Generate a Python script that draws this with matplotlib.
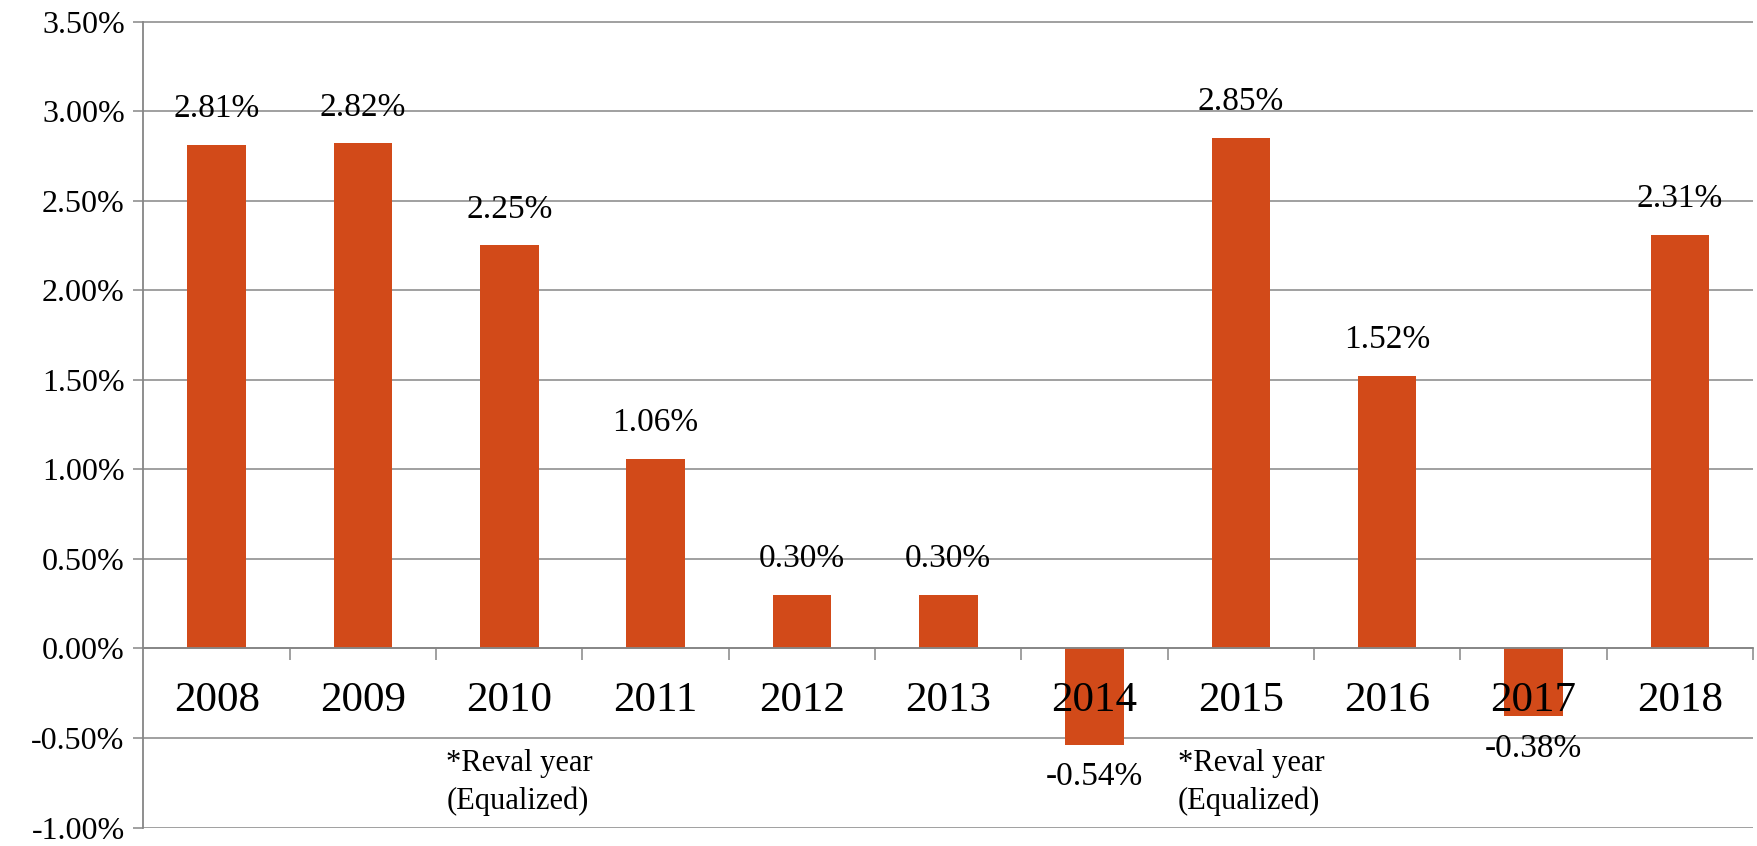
import matplotlib
matplotlib.use("Agg")
import matplotlib.pyplot as plt
from matplotlib.ticker import FuncFormatter, FixedLocator

years = ["2008", "2009", "2010", "2011", "2012", "2013", "2014",
         "2015", "2016", "2017", "2018"]
changes = [2.81, 2.82, 2.25, 1.06, 0.30, 0.30, -0.54, 2.85, 1.52, -0.38, 2.31]
y_ticks = [-1.0, -0.5, 0.0, 0.5, 1.0, 1.5, 2.0, 2.5, 3.0, 3.5]
notes = [("2010", "*Reval year\n(Equalized)"), ("2015", "*Reval year\n(Equalized)")]

plt.rcParams["font.family"] = ["Liberation Serif", "DejaVu Serif"]

BAR = "#D24A19"
GRID = "#868686"

fig = plt.figure(figsize=(17.58, 8.46), dpi=100)
ax = fig.add_axes([143.5 / 1758, 18.5 / 846, (1753 - 143.5) / 1758, (827.5 - 21.5) / 846])

x = list(range(len(years)))
ax.bar(x, changes, width=0.4, color=BAR, zorder=3)

ax.set_xlim(-0.5, len(years) - 0.5)
ax.set_ylim(y_ticks[0], y_ticks[-1])
ax.set_yticks(y_ticks)
ax.yaxis.set_major_formatter(FuncFormatter(lambda v, _: f"{v:.2f}%"))
ax.tick_params(axis="y", length=7.5, width=1.1, color=GRID, pad=6, labelsize=23)
ax.yaxis.grid(True, color=GRID, linewidth=1.1, zorder=0)

# category axis sits on the zero line, drawn above the bars
ax.spines["bottom"].set_position(("data", 0))
ax.spines["bottom"].set_color(GRID)
ax.spines["bottom"].set_linewidth(1.3)
ax.spines["bottom"].set_zorder(4)
ax.spines["left"].set_color(GRID)
ax.spines["left"].set_linewidth(1.3)
ax.spines["top"].set_visible(False)
ax.spines["right"].set_visible(False)
ax.xaxis.set_zorder(5)

ax.set_xticks(x)
ax.set_xticklabels(years)
ax.tick_params(axis="x", which="major", length=0, pad=24, labelsize=31)
ax.xaxis.set_minor_locator(FixedLocator([i + 0.5 for i in x]))
ax.tick_params(axis="x", which="minor", length=8.5, width=1.1, color=GRID, direction="out")

for xi, v in zip(x, changes):
    off = 36 if v >= 0 else -32
    ax.annotate(f"{v:.2f}%", xy=(xi, v), xytext=(0, off), textcoords="offset pixels",
                ha="center", va="center", fontsize=24, zorder=5)

for year, text in notes:
    xi = years.index(year)
    ax.text(xi - 0.43, -0.75, text, ha="left", va="center", fontsize=22,
            linespacing=1.4, zorder=5)

fig.savefig("out.png", dpi=100)
